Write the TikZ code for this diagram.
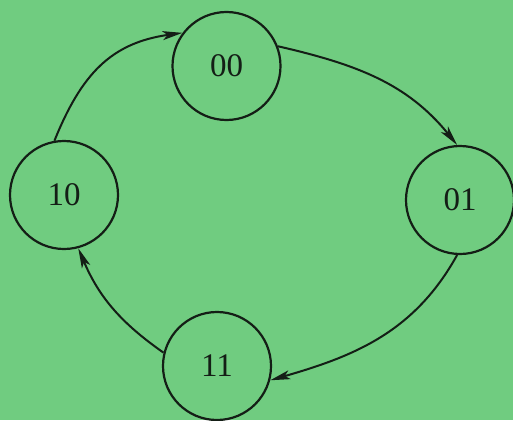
\documentclass[tikz,border=0pt]{standalone}
\usepackage{fontspec}
\setmainfont{Liberation Serif}
\usetikzlibrary{arrows.meta}
\definecolor{paper}{RGB}{112,204,128}
\definecolor{ink}{RGB}{20,30,22}
\begin{document}
\begin{tikzpicture}[x=1pt,y=-1pt,
  state/.style={circle,draw=ink,line width=2.2pt,minimum size=108pt,inner sep=0pt,
    font=\fontsize{33}{33}\selectfont,text=ink},
  trans/.style={draw=ink,line width=2pt,-{Stealth[length=20pt,width=9pt,inset=5pt]}}]
  % page and background
  \fill[paper] (0,0) rectangle (513,420);
  \useasboundingbox (0,0) rectangle (513,420);
  % states
  \node[state] (s00) at (226.5,66) {00};
  \node[state] (s01) at (460,200) {01};
  \node[state] (s11) at (217,366) {11};
  \node[state] (s10) at (64,195) {10};
  % transitions
  \draw[trans] (s10.100) to[out=68,in=188,looseness=1.1] (s00.143);
  \draw[trans] (s00.21) to[out=-13,in=129] (s01.93);
  \draw[trans] (s01.267) to[out=241,in=16] (s11.345);
  \draw[trans] (s11.166) to[out=145,in=293] (s10.285);
\end{tikzpicture}
\end{document}
